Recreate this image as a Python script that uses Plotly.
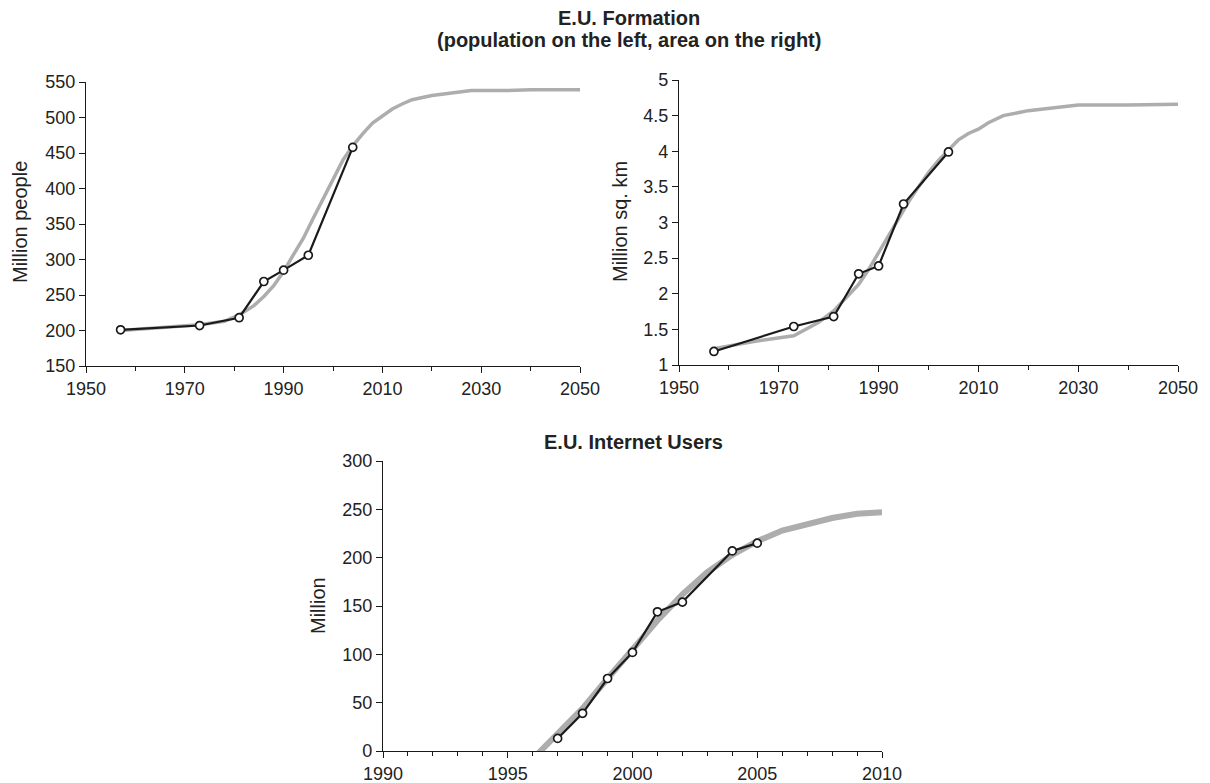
import plotly.graph_objects as go

# ---- Data ----
pop_years = [1957, 1973, 1981, 1986, 1990, 1995, 2004]
pop_vals = [201, 207, 218, 269, 285, 306, 458]
pop_trend_years = [1957, 1973, 1978, 1981, 1984, 1986, 1988, 1990, 1992, 1994, 1996, 1998,
                   2000, 2002, 2004, 2006, 2008, 2010, 2012, 2014, 2016, 2020, 2025, 2028,
                   2035, 2040, 2050]
pop_trend_vals = [200, 208, 213, 222, 235, 248, 263, 283, 307, 330, 358, 386,
                  413, 440, 460, 477, 492, 502, 512, 519, 525, 531, 535, 538,
                  538, 539, 539]

area_years = [1957, 1973, 1981, 1986, 1990, 1995, 2004]
area_vals = [1.19, 1.54, 1.68, 2.28, 2.39, 3.26, 3.99]
area_trend_years = [1957, 1965, 1973, 1978, 1981, 1984, 1986, 1988, 1990, 1992, 1994, 1996,
                    1998, 2000, 2002, 2004, 2006, 2008, 2010, 2012, 2015, 2020, 2025, 2030,
                    2040, 2050]
area_trend_vals = [1.23, 1.33, 1.41, 1.60, 1.76, 1.98, 2.13, 2.34, 2.58, 2.83, 3.06, 3.29,
                   3.50, 3.70, 3.87, 4.02, 4.16, 4.25, 4.31, 4.40, 4.50, 4.57, 4.61, 4.65,
                   4.65, 4.66]

net_years = [1997, 1998, 1999, 2000, 2001, 2002, 2004, 2005]
net_vals = [13, 39, 75, 102, 144, 154, 207, 215]
net_trend_years = [1996.2, 1997, 1998, 1999, 2000, 2001, 2002, 2003, 2004, 2005, 2006, 2007,
                   2008, 2009, 2009.5, 2010]
net_trend_vals = [-3, 18, 44, 75, 106, 135, 162, 185, 203, 217, 228, 235,
                  241, 245.5, 247, 247]

# ---- Styles ----
GRAY = "#adadad"
BLACK = "#1a1a1a"
FONT = "Liberation Sans, Arial, sans-serif"
TICKFONT = dict(family=FONT, size=18, color="#222222")

fig = go.Figure()

def add_pair(tx, ty, x, y, xa, ya, gw):
    fig.add_trace(go.Scatter(x=tx, y=ty, mode="lines", xaxis=xa, yaxis=ya,
                             line=dict(color=GRAY, width=gw), showlegend=False,
                             hoverinfo="skip"))
    fig.add_trace(go.Scatter(x=x, y=y, mode="lines+markers", xaxis=xa, yaxis=ya,
                             line=dict(color=BLACK, width=2.2),
                             marker=dict(size=8, color="white",
                                         line=dict(color=BLACK, width=1.7)),
                             showlegend=False))

add_pair(pop_trend_years, pop_trend_vals, pop_years, pop_vals, "x", "y", 3.5)
add_pair(area_trend_years, area_trend_vals, area_years, area_vals, "x2", "y2", 3.5)
add_pair(net_trend_years, net_trend_vals, net_years, net_vals, "x3", "y3", 6)

W, H = 1210, 783

def xdom(a, b):
    return [a / W, b / W]

def ydom(top, bottom):
    return [1 - bottom / H, 1 - top / H]

axis_common = dict(showline=True, linecolor=BLACK, linewidth=1.3, ticks="outside",
                   ticklen=6, tickcolor=BLACK, tickwidth=1.3, showgrid=False,
                   zeroline=False, tickfont=TICKFONT, fixedrange=True, automargin=False)

fig.update_layout(
    template="none",
    width=W, height=H,
    paper_bgcolor="white", plot_bgcolor="white",
    margin=dict(l=0, r=0, t=0, b=0, pad=0),
    xaxis=dict(domain=xdom(86, 580), anchor="y", range=[1950, 2050], tick0=1950, dtick=20,
               minor=dict(dtick=10, tick0=1950, ticks="outside", ticklen=4,
                          tickcolor=BLACK, tickwidth=1.2), **axis_common),
    yaxis=dict(domain=ydom(82, 366), anchor="x", range=[150, 550], dtick=50, **axis_common),
    xaxis2=dict(domain=xdom(679, 1178), anchor="y2", range=[1950, 2050], tick0=1950, dtick=20,
                minor=dict(dtick=10, tick0=1950, ticks="outside", ticklen=4,
                           tickcolor=BLACK, tickwidth=1.2), **axis_common),
    yaxis2=dict(domain=ydom(80, 365), anchor="x2", range=[1, 5], dtick=0.5, **axis_common),
    xaxis3=dict(domain=xdom(383, 882), anchor="y3", range=[1990, 2010], tick0=1990, dtick=5,
                minor=dict(dtick=1, tick0=1990, ticks="outside", ticklen=4,
                           tickcolor=BLACK, tickwidth=1.2), **axis_common),
    yaxis3=dict(domain=ydom(461, 751), anchor="x3", range=[0, 300], dtick=50, **axis_common),
)

ann_font = dict(family=FONT, size=20, color="#222222")
title_font = dict(family=FONT, size=20, color="#222222")

def note(text, x, y, font, angle=0):
    fig.add_annotation(text=text, xref="paper", yref="paper", x=x / W, y=1 - y / H,
                       xanchor="center", yanchor="middle", showarrow=False,
                       textangle=angle, font=font)

note("<b>E.U. Formation</b>", 629, 18, title_font)
note("<b>(population on the left, area on the right)</b>", 629, 40, title_font)
note("<b>E.U. Internet Users</b>", 633, 442, title_font)
note("Million people", 20, 222, ann_font, -90)
note("Million sq. km", 620, 222, ann_font, -90)
note("Million", 318, 606, ann_font, -90)

fig.write_html("out.html")
